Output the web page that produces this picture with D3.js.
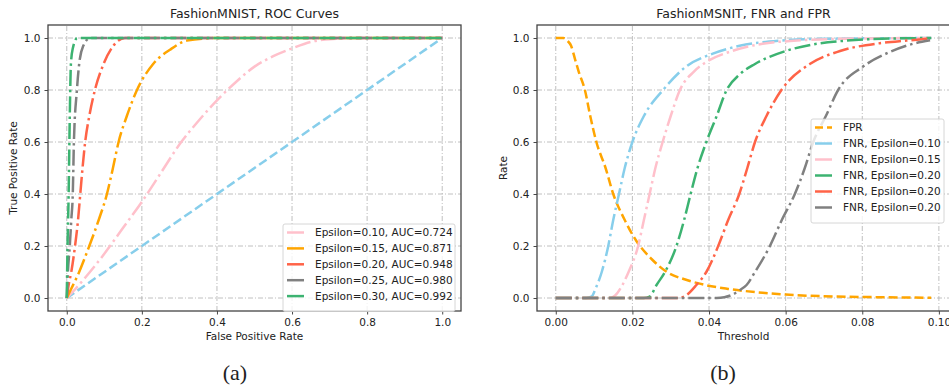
<!DOCTYPE html>
<html>
<head>
<meta charset="utf-8">
<script src="https://cdn.jsdelivr.net/npm/d3@7"></script>
<style>
  body { margin: 0; background: #fff; }
  text { font-family: "DejaVu Sans", sans-serif; fill: #222; }
</style>
</head>
<body>
<div id="chart"></div>
<script>
// ---- data ----
const rocTicks = [0, 0.2, 0.4, 0.6, 0.8, 1.0];
const thrTicks = [0, 0.02, 0.04, 0.06, 0.08, 0.10];
const rateTicks = [0, 0.2, 0.4, 0.6, 0.8, 1.0];

const rocLabels = ["Epsilon=0.10, AUC=0.724", "Epsilon=0.15, AUC=0.871", "Epsilon=0.20, AUC=0.948",
  "Epsilon=0.25, AUC=0.980", "Epsilon=0.30, AUC=0.992"];
const fnrLabels = ["FPR", "FNR, Epsilon=0.10", "FNR, Epsilon=0.15", "FNR, Epsilon=0.20",
  "FNR, Epsilon=0.20", "FNR, Epsilon=0.20"];

// ROC: [fpr, tpr]
const rocChance = [[0, 0], [1, 1]];
const roc010 = [[0,0],[0.02,0.03],[0.05,0.08],[0.1,0.17],[0.15,0.27],[0.2,0.37],[0.25,0.48],[0.3,0.59],
  [0.35,0.68],[0.4,0.76],[0.45,0.83],[0.5,0.89],[0.55,0.93],[0.6,0.96],[0.65,0.985],[0.7,0.995],[0.8,1],[1,1]];
const roc015 = [[0,0],[0.01,0.03],[0.03,0.09],[0.06,0.2],[0.085,0.3],[0.107,0.4],[0.123,0.5],[0.138,0.6],
  [0.16,0.7],[0.187,0.8],[0.23,0.9],[0.275,0.955],[0.32,0.99],[0.4,1],[1,1]];
const roc020 = [[0,0],[0.005,0.05],[0.012,0.1],[0.022,0.2],[0.03,0.3],[0.036,0.4],[0.042,0.5],[0.049,0.6],
  [0.06,0.7],[0.075,0.8],[0.098,0.9],[0.124,0.97],[0.155,1],[1,1]];
const roc025 = [[0,0],[0.003,0.1],[0.008,0.2],[0.012,0.3],[0.016,0.4],[0.019,0.6],[0.027,0.8],[0.033,0.9],
  [0.044,0.97],[0.062,1],[1,1]];
const roc030 = [[0,0],[0.002,0.2],[0.005,0.4],[0.008,0.7],[0.011,0.9],[0.016,0.96],[0.028,1],[1,1]];

// rates vs threshold: [threshold, rate]
const fpr = [[0,1],[0.002,1],[0.003,0.99],[0.004,0.97],[0.005,0.92],[0.006,0.87],[0.0076,0.8],[0.009,0.7],
  [0.0106,0.6],[0.013,0.5],[0.015,0.4],[0.018,0.3],[0.021,0.22],[0.025,0.15],[0.029,0.1],[0.034,0.07],
  [0.039,0.05],[0.045,0.035],[0.054,0.02],[0.06,0.013],[0.07,0.007],[0.08,0.004],[0.09,0.002],[0.098,0.001]];
const fnr010 = [[0,0],[0.008,0],[0.0093,0.005],[0.0105,0.04],[0.012,0.1],[0.0137,0.2],[0.015,0.3],[0.0165,0.4],
  [0.018,0.5],[0.02,0.6],[0.023,0.7],[0.028,0.8],[0.034,0.89],[0.041,0.94],[0.048,0.97],[0.0585,0.99],
  [0.07,0.997],[0.098,1]];
const fnr015 = [[0,0],[0.014,0],[0.0155,0.01],[0.017,0.04],[0.019,0.1],[0.0215,0.2],[0.023,0.3],[0.0245,0.4],
  [0.026,0.5],[0.0279,0.6],[0.03,0.7],[0.0324,0.8],[0.036,0.87],[0.039,0.905],[0.046,0.95],[0.054,0.978],
  [0.063,0.99],[0.075,0.997],[0.098,1]];
const fnr020a = [[0,0],[0.023,0],[0.0245,0.005],[0.0263,0.05],[0.0285,0.1],[0.0315,0.2],[0.0335,0.3],
  [0.0352,0.4],[0.037,0.5],[0.0393,0.6],[0.042,0.7],[0.0446,0.8],[0.048,0.86],[0.052,0.9],[0.06,0.95],
  [0.067,0.975],[0.076,0.99],[0.085,0.997],[0.098,1]];
const fnr020b = [[0,0],[0.032,0],[0.034,0.01],[0.0367,0.05],[0.0393,0.1],[0.0424,0.2],[0.045,0.3],[0.0479,0.4],
  [0.05,0.5],[0.052,0.6],[0.055,0.7],[0.0589,0.8],[0.0663,0.9],[0.0742,0.95],[0.0846,0.98],[0.0916,0.99],
  [0.098,0.998]];
const fnr020c = [[0,0],[0.042,0],[0.044,0.003],[0.046,0.012],[0.048,0.03],[0.0498,0.05],[0.052,0.1],
  [0.0559,0.2],[0.059,0.3],[0.0624,0.4],[0.065,0.5],[0.0672,0.6],[0.0705,0.7],[0.0737,0.8],[0.0802,0.89],
  [0.087,0.945],[0.0933,0.978],[0.0977,0.991]];

const W = 949, H = 387;
const DASH = "9,4", DASHDOT = "16,4,2.5,4";

const svg = d3.select("#chart").append("svg")
  .attr("width", W).attr("height", H);

function panel(opt) {
  const x = d3.scaleLinear().domain(opt.xDomain).range(opt.xRange);
  const y = d3.scaleLinear().domain([-0.05, 1.05]).range([311, 25]);
  const g = svg.append("g");

  // grid
  g.append("g").selectAll("line").data(opt.xTicks).join("line")
    .attr("x1", d => x(d)).attr("x2", d => x(d))
    .attr("y1", y.range()[0]).attr("y2", y.range()[1])
    .attr("stroke", "#b0b0b0").attr("stroke-width", 0.8).attr("stroke-dasharray", "5,2,1,2");
  g.append("g").selectAll("line").data(rateTicks).join("line")
    .attr("y1", d => y(d)).attr("y2", d => y(d))
    .attr("x1", opt.xRange[0]).attr("x2", opt.xRange[1])
    .attr("stroke", "#b0b0b0").attr("stroke-width", 0.8).attr("stroke-dasharray", "5,2,1,2");

  // lines
  const line = d3.line().x(d => x(d[0])).y(d => y(d[1])).curve(d3.curveMonotoneX);
  g.append("g").selectAll("path").data(opt.series).join("path")
    .attr("d", d => line(d.values))
    .attr("fill", "none")
    .attr("stroke", d => d.color)
    .attr("stroke-width", 2.5)
    .attr("stroke-dasharray", d => d.dash);

  // axes
  const xAxis = g.append("g").attr("transform", `translate(0,${y.range()[0]})`)
    .call(d3.axisBottom(x).tickValues(opt.xTicks).tickFormat(d3.format(opt.fmt)).tickSize(3.5).tickPadding(4));
  const yAxis = g.append("g").attr("transform", `translate(${opt.xRange[0]},0)`)
    .call(d3.axisLeft(y).tickValues(rateTicks).tickFormat(d3.format(".1f")).tickSize(3.5).tickPadding(4));
  [xAxis, yAxis].forEach(a => {
    a.select(".domain").remove();
    a.selectAll("line").attr("stroke", "#333").attr("stroke-width", 0.9);
    a.selectAll("text").attr("font-size", 10.5).attr("fill", "#222")
      .style("font-family", "DejaVu Sans, sans-serif");
  });

  // frame
  g.append("rect")
    .attr("x", opt.xRange[0]).attr("y", y.range()[1])
    .attr("width", opt.xRange[1] - opt.xRange[0]).attr("height", y.range()[0] - y.range()[1])
    .attr("fill", "none").attr("stroke", "#444").attr("stroke-width", 1.3);

  const cx = (opt.xRange[0] + opt.xRange[1]) / 2;
  g.append("text").attr("x", cx).attr("y", 18).attr("text-anchor", "middle")
    .attr("font-size", 12.5).text(opt.title);
  g.append("text").attr("x", cx).attr("y", 340).attr("text-anchor", "middle")
    .attr("font-size", 10.5).text(opt.xLabel);
  g.append("text").attr("transform", `translate(${opt.yLabelX},168) rotate(-90)`)
    .attr("text-anchor", "middle").attr("dy", "0.35em")
    .attr("font-size", 10.5).text(opt.yLabel);
  g.append("text").attr("x", opt.capX).attr("y", 380).attr("text-anchor", "middle")
    .attr("font-size", 22).style("font-family", "'Liberation Serif', 'Times New Roman', serif")
    .text(opt.caption);

  // legend
  const L = opt.legend;
  const lg = g.append("g").attr("transform", `translate(${L.x},${L.y})`);
  lg.append("rect").attr("width", L.w).attr("height", L.items.length * L.step + 8)
    .attr("rx", 2).attr("fill", "#fff").attr("fill-opacity", 0.8)
    .attr("stroke", "#ccc").attr("stroke-width", 0.8);
  const it = lg.selectAll("g.item").data(L.items).join("g")
    .attr("transform", (d, i) => `translate(0,${8.5 + i * L.step})`);
  it.append("line").attr("x1", 4).attr("x2", 21).attr("y1", 0).attr("y2", 0)
    .attr("stroke", d => d.color).attr("stroke-width", 2.5)
    .attr("stroke-dasharray", d => d.dash === DASH ? "8,4" : null);
  it.append("text").attr("x", 32).attr("dy", "0.35em").attr("font-size", 10.5)
    .text(d => d.label);
}

const rocColors = ["pink", "orange", "tomato", "grey", "mediumseagreen"];
const rocData = [roc010, roc015, roc020, roc025, roc030];
const rocSeries = [{ values: rocChance, color: "skyblue", dash: DASH }]
  .concat(rocData.map((v, i) => ({ values: v, color: rocColors[i], dash: DASHDOT, label: rocLabels[i] })));

panel({
  title: "FashionMNIST, ROC Curves",
  xLabel: "False Positive Rate", yLabel: "True Positive Rate", yLabelX: 13,
  caption: "(a)", capX: 235,
  xDomain: [-0.05, 1.05], xRange: [48, 461], xTicks: rocTicks, fmt: ".1f",
  series: rocSeries,
  legend: { x: 283, y: 224, w: 172, step: 15.9, items: rocSeries.slice(1) }
});

const fnColors = ["orange", "skyblue", "pink", "mediumseagreen", "tomato", "grey"];
const fnData = [fpr, fnr010, fnr015, fnr020a, fnr020b, fnr020c];
const fnSeries = fnData.map((v, i) => ({ values: v, color: fnColors[i], dash: i === 0 ? DASH : DASHDOT, label: fnrLabels[i] }));

panel({
  title: "FashionMSNIT, FNR and FPR",
  xLabel: "Threshold", yLabel: "Rate", yLabelX: 503,
  caption: "(b)", capX: 723,
  xDomain: [-0.0049, 0.1029], xRange: [537, 950], xTicks: thrTicks, fmt: ".2f",
  series: fnSeries,
  legend: { x: 811, y: 119, w: 133, step: 16, items: fnSeries }
});
</script>
</body>
</html>
